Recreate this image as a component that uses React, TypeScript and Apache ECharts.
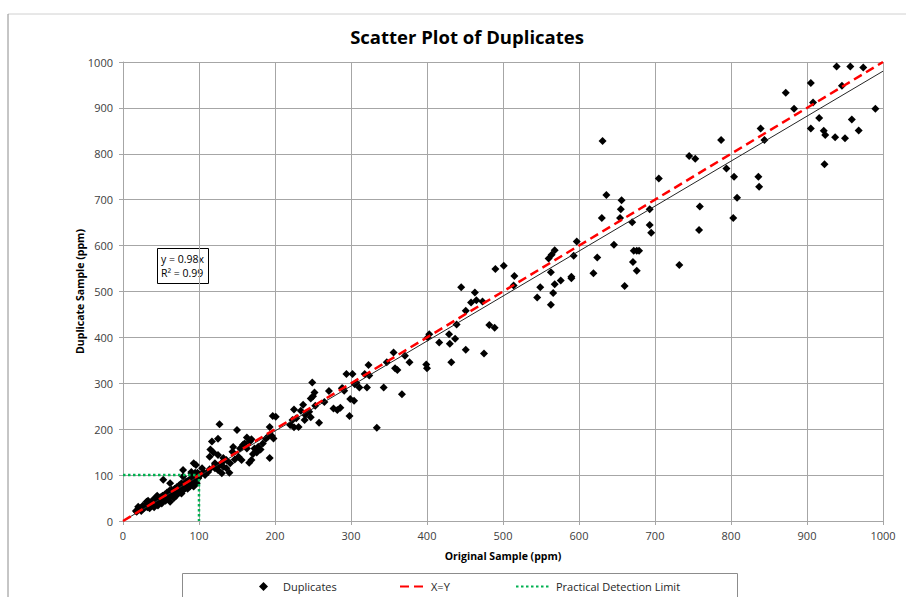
import React, { useEffect, useRef } from "react";
import * as echarts from "echarts";

// Duplicates (original ppm, duplicate ppm)
const lowRange: number[][] = [
  [17, 22], [18, 20], [20, 31], [21, 25], [23, 28], [24, 22], [26, 33], [27, 27], [29, 30], [30, 36],
  [31, 42], [32, 30], [34, 35], [35, 28], [36, 40], [38, 33], [39, 45], [40, 38], [41, 30], [42, 48],
  [43, 36], [44, 53], [45, 42], [46, 34], [47, 47], [48, 40], [49, 52], [50, 45], [51, 38], [52, 55],
  [53, 90], [54, 48], [55, 58], [56, 44], [57, 52], [58, 62], [59, 48], [60, 56], [61, 66], [62, 42],
  [63, 60], [64, 68], [65, 54], [66, 63], [67, 50], [68, 70], [69, 58], [70, 65], [71, 74], [72, 60],
  [73, 68], [74, 78], [75, 62], [76, 71], [77, 82], [77, 60], [78, 75], [79, 97], [80, 68], [81, 80],
  [82, 72], [83, 86], [84, 76], [85, 70], [86, 88], [87, 80], [88, 75], [89, 92], [90, 104], [90, 84],
  [91, 78], [92, 95], [93, 75], [93, 126], [94, 88], [95, 100], [96, 90], [97, 82], [98, 105], [99, 95],
  [79, 111], [95, 105], [90, 107], [95, 97], [99, 93], [96, 122], [62, 82], [45, 55], [33, 44], [70, 55],
];

const midRange: number[][] = [
  [100, 98], [101, 100], [104, 115], [106, 107], [108, 100], [112, 107], [114, 113], [121, 115], [125, 111],
  [130, 104], [140, 105], [121, 122], [127, 122], [121, 126], [130, 127], [132, 118], [136, 115], [141, 126],
  [132, 137], [136, 133], [114, 140], [119, 149], [115, 156], [117, 173], [125, 144], [125, 179], [127, 211],
  [144, 151], [145, 161], [147, 134], [152, 140], [154, 158], [156, 133], [150, 198], [158, 166], [160, 169],
  [163, 158], [163, 182], [167, 173], [169, 178], [166, 127], [169, 133], [171, 146], [173, 158], [175, 155],
  [176, 149], [178, 162], [181, 156], [184, 169], [188, 179], [191, 184], [193, 137], [193, 205], [196, 185],
  [198, 180], [197, 229], [201, 227], [220, 209], [223, 220], [225, 204], [228, 224], [231, 205], [239, 220],
  [240, 231], [245, 238], [247, 226], [225, 243], [234, 240], [237, 253], [253, 251], [258, 214], [265, 259],
  [277, 245], [282, 242], [286, 247], [271, 283], [247, 267], [250, 272], [252, 280], [249, 302], [288, 289],
  [289, 289], [291, 284], [298, 229], [299, 266],
];

const highRange: number[][] = [
  [304, 262], [294, 320], [302, 320], [305, 298], [307, 301], [311, 291], [318, 320], [324, 317], [321, 291],
  [323, 340], [334, 203], [343, 291], [347, 346], [356, 367], [358, 333], [361, 329], [367, 276], [371, 360],
  [377, 346], [399, 341], [400, 333], [401, 400], [403, 407], [416, 389], [429, 407], [430, 386], [437, 397],
  [432, 346], [439, 428], [445, 509], [451, 458], [451, 373], [458, 476], [463, 498], [465, 481], [473, 478],
  [475, 365], [482, 427], [489, 421], [490, 549], [501, 556], [514, 513], [515, 534], [545, 487], [549, 509],
  [560, 572], [563, 471], [563, 542], [564, 580], [566, 497], [568, 590], [568, 516], [576, 524], [590, 529],
  [590, 532], [593, 578], [597, 609], [619, 540], [624, 574], [630, 660], [631, 828], [636, 710], [646, 602],
  [654, 660], [655, 679], [656, 699], [660, 512], [670, 651], [671, 564], [672, 589], [676, 589], [679, 589],
  [676, 545], [693, 679], [693, 645], [695, 628], [705, 746], [732, 558], [745, 795], [753, 789], [758, 634],
  [759, 685], [787, 830], [794, 768], [803, 660], [804, 750], [808, 704], [836, 750], [837, 728], [839, 855],
  [844, 830], [872, 933], [883, 898], [905, 954], [905, 855], [908, 912], [916, 878], [922, 850], [923, 777],
  [924, 841], [937, 836], [939, 990], [946, 948], [950, 834], [957, 990], [959, 875], [968, 851], [974, 988],
  [990, 898],
];

// Lines
const fitSlope = 0.98;
const fitLine: number[][] = [[0, 0], [1000, 1000 * fitSlope]];
const xEqualsY: number[][] = [[0, 0], [1000, 1000]];
const detectionLimit: number[][] = [[0, 100], [100, 100], [100, 0]];

const axisMin = 0;
const axisMax = 1000;
const axisStep = 100;

const LABEL_FONT = "'Open Sans', 'Noto Sans', sans-serif";

export default function App() {
  const ref = useRef<HTMLDivElement>(null);

  useEffect(() => {
    if (!ref.current) return;
    const chart = echarts.init(ref.current, undefined, { renderer: "svg" });
    const gridColor = "#a6a6a6";
    const legendTextStyle = { fontFamily: LABEL_FONT, fontSize: 11, color: "#262626" };
    const hiddenSymbol = { opacity: 0, color: "transparent", borderWidth: 0 };
    chart.setOption({
      animation: false,
      backgroundColor: "#ffffff",
      title: {
        text: "Scatter Plot of Duplicates",
        left: 462,
        textAlign: "center",
        top: 22,
        textStyle: { fontFamily: LABEL_FONT, fontWeight: "bold", fontSize: 18.5, color: "#000" },
      },
      grid: { left: 123, right: 23, top: 62, bottom: 76, containLabel: false },
      xAxis: {
        type: "value",
        min: axisMin,
        max: axisMax,
        interval: axisStep,
        name: "Original Sample (ppm)",
        nameLocation: "middle",
        nameGap: 29,
        nameTextStyle: { fontFamily: LABEL_FONT, fontWeight: "bold", fontSize: 10.5, color: "#000" },
        axisLine: { show: true, lineStyle: { color: gridColor } },
        axisTick: { show: true, length: 4, lineStyle: { color: gridColor } },
        axisLabel: { margin: 9, fontFamily: LABEL_FONT, fontSize: 11, color: "#404040", formatter: (v: number) => String(v) },
        splitLine: { show: true, lineStyle: { color: gridColor, width: 1 } },
      },
      yAxis: {
        type: "value",
        min: axisMin,
        max: axisMax,
        interval: axisStep,
        name: "Duplicate Sample (ppm)",
        nameLocation: "middle",
        nameGap: 38,
        nameMoveOverlap: false,
        nameTextStyle: { fontFamily: LABEL_FONT, fontWeight: "bold", fontSize: 10.5, color: "#000" },
        axisLine: { show: true, lineStyle: { color: gridColor } },
        axisTick: { show: true, length: 4, lineStyle: { color: gridColor } },
        axisLabel: { margin: 10, fontFamily: LABEL_FONT, fontSize: 11, color: "#404040", formatter: (v: number) => String(v) },
        splitLine: { show: true, lineStyle: { color: gridColor, width: 1 } },
      },
      legend: [
        {
          data: [{ name: "Duplicates", icon: "diamond" }],
          left: 259,
          top: 581,
          itemWidth: 9,
          itemHeight: 9,
          padding: 0,
          textStyle: { ...legendTextStyle, padding: [0, 0, 0, 10] },
        },
        {
          data: [{ name: "X=Y", itemStyle: hiddenSymbol }],
          left: 399,
          top: 581,
          itemWidth: 26,
          itemHeight: 9,
          padding: 0,
          textStyle: legendTextStyle,
        },
        {
          data: [{ name: "Practical Detection Limit", itemStyle: hiddenSymbol }],
          left: 515,
          top: 581,
          itemWidth: 35,
          itemHeight: 9,
          padding: 0,
          textStyle: legendTextStyle,
        },
      ],
      graphic: [
        { type: "line", shape: { x1: 8, y1: 14, x2: 906, y2: 14 }, style: { stroke: "#d0d0d0", lineWidth: 1 }, silent: true },
        { type: "line", shape: { x1: 8, y1: 14, x2: 8, y2: 597 }, style: { stroke: "#8c8c8c", lineWidth: 1 }, silent: true },
        { type: "rect", shape: { x: 182.5, y: 573.5, width: 555, height: 30 }, style: { fill: "none", stroke: "#8c8c8c", lineWidth: 1 }, silent: true, z: -1 },
        {
          type: "group",
          left: 157,
          top: 248,
          children: [
            { type: "rect", shape: { x: 0.5, y: 0.5, width: 51, height: 35 }, style: { fill: "#fff", stroke: "#000", lineWidth: 1 } },
            { type: "text", x: 4, y: 4, style: { text: "y = 0.98x\nR² = 0.99", fontFamily: LABEL_FONT, fontSize: 10.5, lineHeight: 14, fill: "#000" } },
          ],
          z: 100,
        },
      ],
      series: [
        {
          name: "Duplicates",
          type: "scatter",
          symbol: "diamond",
          symbolSize: 8,
          itemStyle: { color: "#000", opacity: 1 },
          data: [...lowRange, ...midRange, ...highRange],
          z: 2,
        },
        {
          name: "Linear (Duplicates)",
          type: "line",
          data: fitLine,
          symbol: "none",
          lineStyle: { color: "#262626", width: 1 },
          z: 3,
        },
        {
          name: "X=Y",
          type: "line",
          data: xEqualsY,
          symbol: "none",
          showSymbol: false,
          lineStyle: { color: "#ff0000", width: 2.5, type: [9, 5] },
          itemStyle: { color: "#ff0000" },
          z: 4,
        },
        {
          name: "Practical Detection Limit",
          type: "line",
          data: detectionLimit,
          symbol: "none",
          showSymbol: false,
          lineStyle: { color: "#00b050", width: 2.5, type: [2.5, 2.5] },
          itemStyle: { color: "#00b050" },
          z: 4,
        },
      ],
    });
    return () => chart.dispose();
  }, []);

  return <div ref={ref} style={{ position: "fixed", left: 0, top: 0, width: 906, height: 597 }} />;
}
